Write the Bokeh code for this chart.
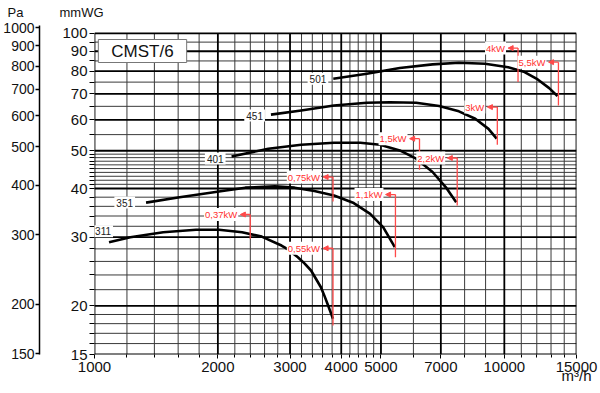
from bokeh.plotting import figure
from bokeh.models import (Range1d, LogScale, LogAxis, FixedTicker, NumeralTickFormatter,
                          Label, Arrow, NormalHead, ColumnDataSource)
from bokeh.embed import file_html
from bokeh.resources import INLINE

FONT = "Liberation Sans"

# ---------------- data ----------------
x_major = [1000, 2000, 3000, 4000, 5000, 7000, 10000, 15000]
x_minor = [1200, 1400, 1600, 1800, 2200, 2400, 2600, 2800, 3200, 3400, 3600, 3800,
           4200, 4400, 4600, 4800, 6000, 8000, 9000, 11000, 12000, 13000, 14000]
y_major = [15, 20, 30, 40, 50, 60, 70, 80, 90, 100]          # mmWG
y_minor = [16, 17, 18, 19, 22, 24, 26, 28, 32, 34, 36, 38,
           41, 42, 43, 44, 45, 46, 47, 48, 49, 55, 65, 75, 85, 95]
pa_ticks = [150, 200, 300, 400, 500, 600, 700, 800, 900, 1000]

curve_names = ["311", "351", "401", "451", "501"]
q_311 = [1085, 1223, 1471, 1769, 2012, 2291, 2559, 2859, 2966, 3135, 3253, 3376, 3568, 3634, 3702, 3819]
p_311 = [29.1, 30.0, 30.9, 31.35, 31.35, 30.9, 30.1, 28.56, 27.9, 26.65, 25.7, 24.64, 22.32, 21.3, 20.24, 18.52]
q_351 = [1336, 1613, 2012, 2333, 2755, 3077, 3439, 3841, 4291, 4707, 5066, 5404]
p_351 = [36.8, 38.0, 39.3, 40.2, 40.5, 40.2, 39.4, 38.4, 36.7, 34.45, 31.8, 28.3]
q_401 = [2160, 2655, 3194, 3841, 4453, 4974, 5557, 6093, 6682, 7193, 7630]
p_401 = [48.3, 50.6, 51.8, 52.4, 52.4, 51.8, 50.1, 47.7, 44.1, 40.35, 36.9]
q_451 = [2695, 3194, 3841, 4618, 5259, 6093, 6934, 7746, 8494, 9148, 9577]
p_451 = [61.9, 63.4, 65.3, 66.4, 66.6, 66.4, 65.1, 63.1, 60.4, 56.9, 53.7]
q_501 = [3825, 4618, 5557, 6682, 7746, 8978, 10219, 11205, 12063, 12866, 13480]
p_501 = [76.5, 78.8, 81.5, 83.3, 84.1, 83.6, 81.9, 79.6, 76.2, 72.4, 69.05]

power_labels = ["0,37kW", "0,55kW", "0,75kW", "1,1kW", "1,5kW", "2,2kW", "3kW", "4kW", "5,5kW"]
power_q = [2399, 3819, 3819, 5424, 6209, 7674, 9614, 10800, 13552]
power_top = [34.3, 28.1, 42.8, 38.6, 53.7, 47.9, 64.7, 91.7, 84.4]
power_bottom = [29.7, 17.8, 37.05, 26.65, 44.7, 36.2, 51.8, 75.0, 65.3]

unit_pa, unit_wg, unit_flow = "Pa", "mmWG", "m³/h"
chart_name = "CMST/6"

# ---------------- figure ----------------
fig = figure(width=600, height=393, x_axis_type="log", y_axis_type="log",
             x_range=Range1d(x_major[0], x_major[-1]), y_range=Range1d(y_major[0], 104.8),
             output_backend="svg", toolbar_location=None,
             min_border_left=87, min_border_right=24, min_border_top=25, min_border_bottom=39)
fig.outline_line_color = None
fig.xgrid.visible = False
fig.ygrid.visible = False

# title row holding the two unit captions
fig.title.text = unit_pa + "\u00a0" * 10 + unit_wg
fig.title.align = "left"
fig.title.offset = -87
fig.title.vertical_align = "top"
fig.title.standoff = 8
fig.title.text_font = FONT
fig.title.text_font_size = "13px"
fig.title.text_font_style = "normal"
fig.title.text_color = "#111111"

YMIN, YMAX = y_major[0], y_major[-1]
XMIN, XMAX = x_major[0], x_major[-1]

fig.segment(x0=x_minor, y0=YMIN, x1=x_minor, y1=YMAX, line_color="#3a3a3a", line_width=1)
fig.segment(x0=XMIN, y0=y_minor, x1=XMAX, y1=y_minor, line_color="#3a3a3a", line_width=1)
fig.segment(x0=x_major, y0=YMIN, x1=x_major, y1=YMAX, line_color="black", line_width=1.8)
fig.segment(x0=XMIN, y0=y_major, x1=XMAX, y1=y_major, line_color="black", line_width=1.8)

curves = [(q_311, p_311), (q_351, p_351), (q_401, p_401), (q_451, p_451), (q_501, p_501)]
for qq, pp in curves:
    fig.line(qq, pp, line_color="black", line_width=2.6, line_join="round")

label_offsets = [(4, 11), (-11, 0), (-6, -2), (-6, -1), (-5, 0)]
for name, (qq, pp), (dx, dy) in zip(curve_names, curves, label_offsets):
    fig.add_layout(Label(x=qq[0], y=pp[0], text=name, x_offset=dx, y_offset=dy,
                         text_align="right", text_baseline="middle",
                         text_font=FONT, text_font_size="10px", text_color="#222222",
                         background_fill_color="white", padding=2))

RED = "#ff4a4a"
fig.segment(x0=power_q, y0=power_bottom, x1=power_q, y1=power_top, line_color=RED, line_width=1.3)
src = ColumnDataSource(dict(xs=power_q, ys=power_top, xe=[v * 0.946 for v in power_q], ye=power_top))
fig.add_layout(Arrow(x_start="xs", y_start="ys", x_end="xe", y_end="ye", source=src,
                     line_color=RED, line_width=1.3,
                     end=NormalHead(size=5, fill_color=RED, line_color=RED)))
for lab, qv, tv in zip(power_labels, power_q, power_top):
    fig.add_layout(Label(x=qv, y=tv, text=lab, x_offset=-12, text_align="right",
                         text_baseline="middle", text_font=FONT, text_font_size="9.5px",
                         text_color="#ff3030", background_fill_color="white", padding=1))

# axes
xa = fig.xaxis[0]
xa.ticker = FixedTicker(ticks=x_major, minor_ticks=x_minor)
xa.formatter = NumeralTickFormatter(format="0")
xa.axis_line_color = None
xa.major_tick_out = 4
xa.major_tick_in = 0
xa.minor_tick_out = 3
xa.minor_tick_in = 0
xa.major_tick_line_color = "black"
xa.minor_tick_line_color = "black"
xa.major_label_standoff = 3
xa.major_label_text_font = FONT
xa.major_label_text_font_size = "15px"
xa.major_label_text_color = "#111111"

# flow unit caption under the last tick label
ua = LogAxis(ticker=FixedTicker(ticks=[XMAX]), major_label_overrides={XMAX: unit_flow})
ua.axis_line_color = None
ua.major_tick_line_color = None
ua.major_tick_out = 0
ua.major_tick_in = 0
ua.minor_tick_line_color = None
ua.major_label_standoff = -8
ua.major_label_text_font = FONT
ua.major_label_text_font_size = "15px"
ua.major_label_text_color = "#111111"
fig.add_layout(ua, "below")

ya = fig.yaxis[0]
ya.ticker = FixedTicker(ticks=y_major, minor_ticks=y_minor)
ya.formatter = NumeralTickFormatter(format="0")
ya.axis_line_color = None
ya.major_tick_out = 5
ya.major_tick_in = 0
ya.minor_tick_out = 5
ya.minor_tick_in = 0
ya.major_tick_line_color = "black"
ya.minor_tick_line_color = "black"
ya.major_label_standoff = 2
ya.major_label_text_font = FONT
ya.major_label_text_font_size = "15px"
ya.major_label_text_color = "#111111"
ya.axis_label = " "
ya.axis_label_standoff = 0
ya.axis_label_text_font_size = "16px"

fig.extra_y_ranges = {"pa": Range1d(149.4, 1013.5)}
fig.extra_y_scales = {"pa": LogScale()}
pa = LogAxis(y_range_name="pa", ticker=FixedTicker(ticks=pa_ticks),
             formatter=NumeralTickFormatter(format="0"))
pa.axis_line_color = "black"
pa.axis_line_width = 1.5
pa.major_tick_out = 4
pa.major_tick_in = 0
pa.major_tick_line_color = "black"
pa.major_tick_line_width = 1.5
pa.major_label_standoff = 1
pa.major_label_text_font = FONT
pa.major_label_text_font_size = "14px"
pa.major_label_text_color = "#111111"
fig.add_layout(pa, "left")

fig.add_layout(Label(x=48, y=303.5, x_units="screen", y_units="screen", text=chart_name,
                     text_align="center", text_baseline="middle", text_font=FONT,
                     text_font_size="17px", text_color="#111111",
                     background_fill_color="white", border_line_color="#777777",
                     padding=(13, 2)))

open("out.html", "w").write(file_html(fig, INLINE))
